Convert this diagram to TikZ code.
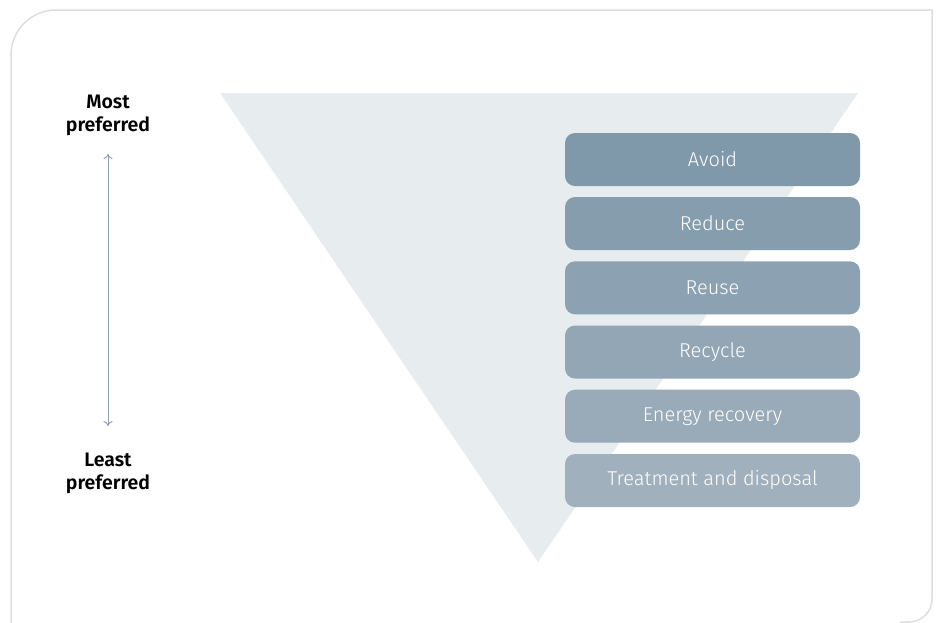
\documentclass[tikz,border=0pt]{standalone}
\usepackage{fontspec}
\setmainfont{Fira Sans}[UprightFont=* Light, BoldFont=* SemiBold]
\usetikzlibrary{arrows.meta}
\definecolor{frame}{HTML}{DEDEDE}
\definecolor{tri}{HTML}{E7ECEF}
\definecolor{arr}{HTML}{8FA3B6}
\definecolor{c1}{HTML}{7F98AA}
\definecolor{c2}{HTML}{869DAE}
\definecolor{c3}{HTML}{8CA2B2}
\definecolor{c4}{HTML}{93A6B5}
\definecolor{c5}{HTML}{99ABB9}
\definecolor{c6}{HTML}{A0B0BD}
\begin{document}
\begin{tikzpicture}[x=1pt,y=-1pt,
  level/.style={draw=none, rounded corners=10pt, minimum width=295pt, minimum height=53pt,
    text=white, font=\fontsize{20}{22}\selectfont, inner sep=0pt},
  endlabel/.style={align=center, font=\bfseries\fontsize{19.5}{23}\selectfont, text=black}]
\useasboundingbox (0,0) rectangle (936,622);
\fill[white] (0,0) rectangle (936,622);
% frame
\draw[frame, line width=1.5pt] (11,630) -- (11,55) arc[start angle=180, end angle=270, radius=45] -- (932,10) -- (932,599) arc[start angle=0, end angle=90, radius=23] -- (900,622);
% triangle
\fill[tri] (220,93) -- (858,93) -- (538,562) -- cycle;
% levels
\node[level, fill=c1] (l1) at (712.5,159.5) {Avoid};
\node[level, fill=c2] (l2) at (712.5,223.5) {Reduce};
\node[level, fill=c3] (l3) at (712.5,287.8) {Reuse};
\node[level, fill=c4] (l4) at (712.5,352) {Recycle};
\node[level, fill=c5] (l5) at (712.5,416.2) {Energy recovery};
\node[level, fill=c6] (l6) at (712.5,480.5) {Treatment and disposal};
% side labels
\node[endlabel] (most) at (108,115) {Most\\preferred};
\node[endlabel] (least) at (108,473) {Least\\preferred};
\coordinate (top) at (108,154);
\coordinate (bot) at (108,426);
\draw[arr, line width=1pt, {To[length=5pt,width=9pt]}-{To[length=5pt,width=9pt]}] (top) -- (bot);
\end{tikzpicture}
\end{document}
